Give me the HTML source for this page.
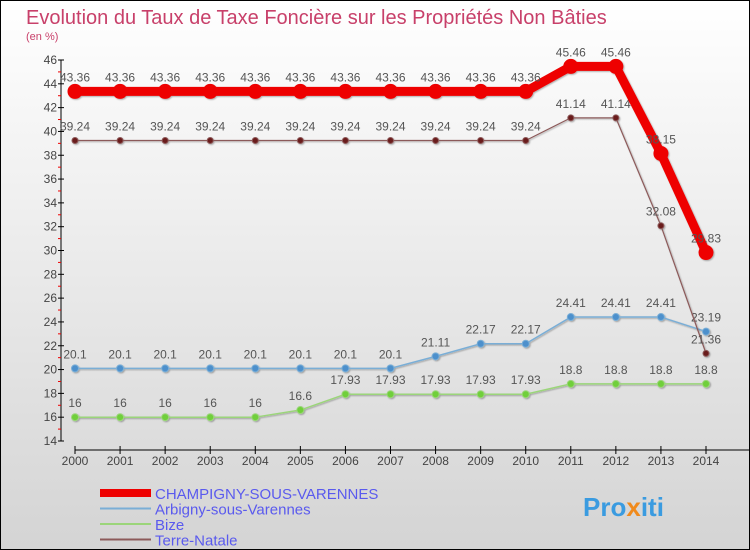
<!DOCTYPE html>
<html><head><meta charset="utf-8"><style>
body{margin:0}
svg{display:block;font-family:"Liberation Sans",sans-serif}
</style></head><body>
<svg id="c" width="750" height="550" viewBox="0 0 750 550" xmlns="http://www.w3.org/2000/svg">
<defs><linearGradient id="bg" x1="0" y1="0" x2="0" y2="1"><stop offset="0" stop-color="#ffffff"/><stop offset="1" stop-color="#d4d4d4"/></linearGradient>
<filter id="sh"><feDropShadow dx="1" dy="1" stdDeviation="0.8" flood-opacity="0.3"/></filter></defs>
<rect x="0.5" y="0.5" width="749" height="549" fill="url(#bg)" stroke="#000"/>
<text x="26" y="24" font-size="20" fill="#c8406a">Evolution du Taux de Taxe Foncière sur les Propriétés Non Bâties</text>
<text x="26" y="40" font-size="11" fill="#c8406a">(en %)</text>
<g id="axes"></g>
<g id="series"></g>
<g id="legend"></g>
<text x="583" y="516" font-size="26" font-weight="bold" fill="#3a9be0">Pro<tspan fill="#f08a1c">x</tspan>iti</text>
</svg>
<script>
const years=[2000,2001,2002,2003,2004,2005,2006,2007,2008,2009,2010,2011,2012,2013,2014];
const yTicks=[14,16,18,20,22,24,26,28,30,32,34,36,38,40,42,44,46];
const champigny=[43.36,43.36,43.36,43.36,43.36,43.36,43.36,43.36,43.36,43.36,43.36,45.46,45.46,38.15,29.83];
const arbigny=[20.1,20.1,20.1,20.1,20.1,20.1,20.1,20.1,21.11,22.17,22.17,24.41,24.41,24.41,23.19];
const bize=[16,16,16,16,16,16.6,17.93,17.93,17.93,17.93,17.93,18.8,18.8,18.8,18.8];
const terre=[39.24,39.24,39.24,39.24,39.24,39.24,39.24,39.24,39.24,39.24,39.24,41.14,41.14,32.08,21.36];
const seriesNames=["CHAMPIGNY-SOUS-VARENNES","Arbigny-sous-Varennes","Bize","Terre-Natale"];
const NS="http://www.w3.org/2000/svg";
const x=i=>75+i*(631/(years.length-1));
const y=v=>60+(46-v)*(381/32);
function mk(p,t,a){const e=document.createElementNS(NS,t);for(const k in a)e.setAttribute(k,a[k]);p.appendChild(e);return e;}
const ax=document.getElementById('axes');
let yl=mk(ax,'line',{x1:61,y1:60,x2:61,y2:441,stroke:'#000'});


yTicks.forEach(v=>{
 mk(ax,'line',{x1:58,x2:64,y1:y(v),y2:y(v),stroke:'#000'});
 if(v<46) mk(ax,'line',{x1:58,x2:61,y1:y(v+1),y2:y(v+1),stroke:'#e00'});
 const t=mk(ax,'text',{x:57,y:y(v)+4,'font-size':12,'text-anchor':'end',fill:'#444'});t.textContent=v;
 
 
});
let xl=mk(ax,'line',{x1:75,y1:450,x2:750,y2:450,stroke:'#000'});


years.forEach((yr,i)=>{
 mk(ax,'line',{x1:x(i),x2:x(i),y1:446,y2:454,stroke:'#000'});
 const t=mk(ax,'text',{x:x(i),y:465,'font-size':12,'text-anchor':'middle',fill:'#444'});t.textContent=yr;
 
 
});
const sg=document.getElementById('series');
function draw(vals,color,w,r,fill,name){
 const g=mk(sg,'g',{filter:'url(#sh)'});
 
 
 mk(g,'polyline',{points:vals.map((v,i)=>x(i)+','+y(v)).join(' '),fill:'none',stroke:color,'stroke-width':w,'stroke-linejoin':'round'});
 vals.forEach((v,i)=>{
  const c=mk(g,'circle',{cx:x(i),cy:y(v),r:r,fill:fill,stroke:color,'stroke-width':1});
  
  
  const t=mk(sg,'text',{x:x(i),y:y(v)-10,'font-size':12,'text-anchor':'middle',fill:'#555'});t.textContent=v;
  
  
 });
}
draw(bize,'#9bd57a',1.5,3.5,'#6fcf3a','series-bize');
draw(arbigny,'#7aaed6',1.5,3.5,'#4d90cc','series-arbigny');
draw(terre,'#8c5a5a',1.2,3,'#6b1a1a','series-terre-natale');
draw(champigny,'#ee0000',9,7,'#ee0000','series-champigny');
const lg=document.getElementById('legend');
const lc=[['#ee0000',8],['#7aaed6',2],['#9bd57a',2],['#8c5a5a',2]];
seriesNames.forEach((n,i)=>{
 const yy=493+i*15.5;
 const l=mk(lg,'line',{x1:100,x2:151,y1:yy,y2:yy,stroke:lc[i][0],'stroke-width':lc[i][1]});
 
 
 const t=mk(lg,'text',{x:155,y:yy+6,'font-size':15,fill:'#5a5aee'});t.textContent=n;
 
 
});
</script>
</body></html>
